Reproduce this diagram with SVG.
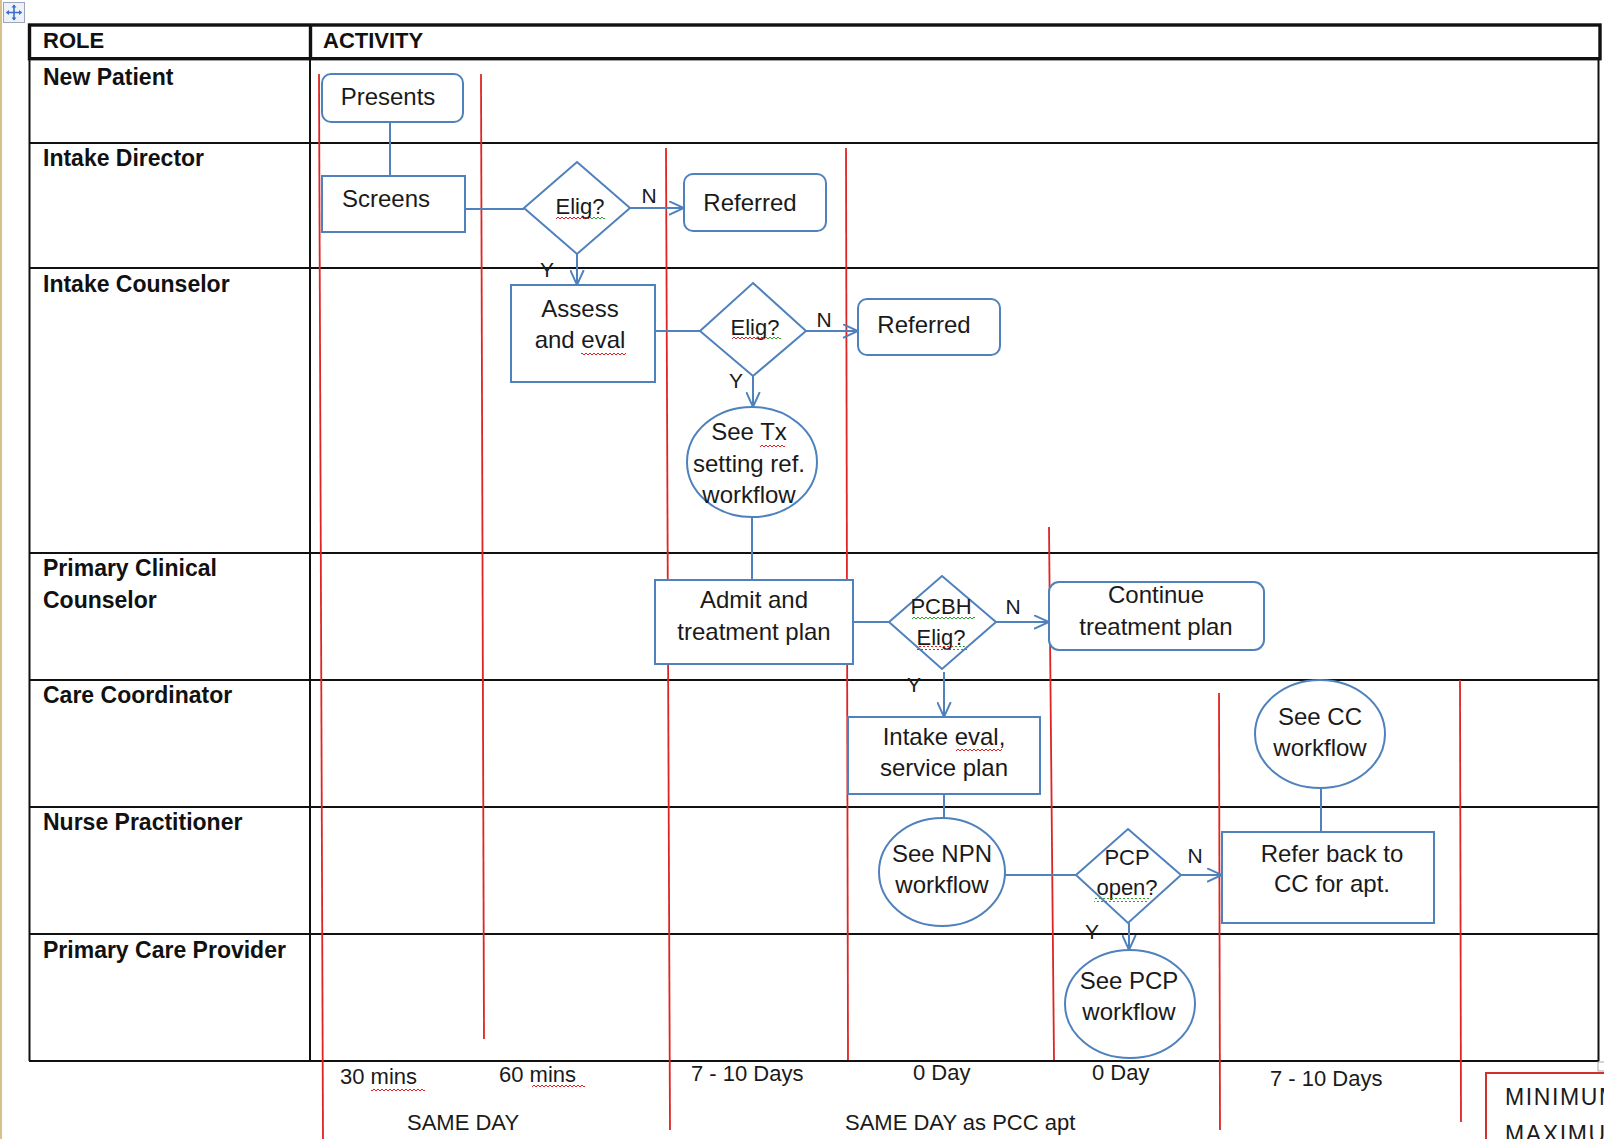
<svg xmlns="http://www.w3.org/2000/svg" width="1604" height="1139" viewBox="0 0 1604 1139">
<defs>
<style>
.role{font-family:"Liberation Sans",Arial,sans-serif;font-weight:bold;font-size:23px;fill:#111}
.hdr{font-family:"Liberation Sans",Arial,sans-serif;font-weight:bold;font-size:22px;fill:#111}
.t{font-family:"Liberation Sans",Arial,sans-serif;font-size:24px;fill:#1a1a1a;text-anchor:middle}
.d{font-family:"Liberation Sans",Arial,sans-serif;font-size:22px;fill:#1a1a1a;text-anchor:middle}
.yn{font-family:"Liberation Sans",Arial,sans-serif;font-size:21px;fill:#1a1a1a;text-anchor:middle}
.b{font-family:"Liberation Sans",Arial,sans-serif;font-size:22px;fill:#1a1a1a}
.shape{fill:#fff;stroke:#4F81BD;stroke-width:2}
.conn{fill:none;stroke:#4F81BD;stroke-width:2}
.red{stroke:#E02424;stroke-width:1.8;fill:none}
.grid{stroke:#111;stroke-width:2;fill:none}
</style>
<marker id="arr" viewBox="0 0 10 10" refX="10" refY="5" markerWidth="15" markerHeight="15" markerUnits="userSpaceOnUse" orient="auto">
<path d="M0,0.5 L10,5 L0,9.5" fill="none" stroke="#4F81BD" stroke-width="1.3"/>
</marker>
<pattern id="wr" width="4" height="4" patternUnits="userSpaceOnUse"><path d="M0 3 L2 1 L4 3" fill="none" stroke="#E02020" stroke-width="1"/></pattern>
<pattern id="wg" width="4" height="4" patternUnits="userSpaceOnUse"><path d="M0 3 L2 1 L4 3" fill="none" stroke="#30A030" stroke-width="1"/></pattern>
</defs>
<rect width="1604" height="1139" fill="#fff"/>
<line x1="1" y1="0" x2="1" y2="1139" stroke="#D8C08A" stroke-width="2"/>
<g id="move-handle">
<rect x="3.5" y="2.5" width="21" height="20" fill="#EEF2F8" stroke="#9AA6B8" stroke-width="1"/>
<path d="M14 5 V20 M6.5 12.5 H21.5" stroke="#3A6FC4" stroke-width="1.6"/>
<path d="M14 4.5 L11.5 7.5 H16.5 Z M14 20.5 L11.5 17.5 H16.5 Z M6 12.5 L9 10 V15 Z M22 12.5 L19 10 V15 Z" fill="#3A6FC4"/>
</g>
<g id="table">
<rect x="29.5" y="25" width="1570.5" height="33.7" fill="none" stroke="#111" stroke-width="3.4"/>
<line x1="310.5" y1="25" x2="310.5" y2="58.7" stroke="#111" stroke-width="3.4"/>
<line class="grid" x1="29.5" y1="58" x2="29.5" y2="1061"/>
<line class="grid" x1="310" y1="58" x2="310" y2="1061"/>
<line class="grid" x1="1598.5" y1="58" x2="1598.5" y2="1061"/>
<line class="grid" x1="29" y1="143" x2="1599" y2="143"/>
<line class="grid" x1="29" y1="268" x2="1599" y2="268"/>
<line class="grid" x1="29" y1="553" x2="1599" y2="553"/>
<line class="grid" x1="29" y1="680" x2="1599" y2="680"/>
<line class="grid" x1="29" y1="807" x2="1599" y2="807"/>
<line class="grid" x1="29" y1="934" x2="1599" y2="934"/>
<line class="grid" x1="29" y1="1061" x2="1599" y2="1061"/>
<rect x="1598" y="1062" width="7" height="9" fill="#fff" stroke="#AAAAAA" stroke-width="1"/>
<text class="hdr" x="43" y="48">ROLE</text>
<text class="hdr" x="323" y="48">ACTIVITY</text>
<text class="role" x="43" y="85">New Patient</text>
<text class="role" x="43" y="166">Intake Director</text>
<text class="role" x="43" y="292">Intake Counselor</text>
<text class="role" x="43" y="576">Primary Clinical</text>
<text class="role" x="43" y="608">Counselor</text>
<text class="role" x="43" y="703">Care Coordinator</text>
<text class="role" x="43" y="830">Nurse Practitioner</text>
<text class="role" x="43" y="958">Primary Care Provider</text>
</g>
<g id="time-dividers">
<line class="red" x1="319" y1="74" x2="323" y2="1139"/>
<line class="red" x1="481" y1="74" x2="484" y2="1039"/>
<line class="red" x1="666" y1="148" x2="670" y2="1130"/>
<line class="red" x1="846" y1="148" x2="848" y2="1060"/>
<line class="red" x1="1049" y1="527" x2="1054" y2="1060"/>
<line class="red" x1="1219" y1="693" x2="1220" y2="1130"/>
<line class="red" x1="1460" y1="680" x2="1461" y2="1122"/>
</g>
<g id="connectors">
<path class="conn" d="M390 122 V176"/>
<path class="conn" d="M465 209 H524"/>
<path class="conn" d="M630 208 H684" marker-end="url(#arr)"/>
<path class="conn" d="M577 254 V285" marker-end="url(#arr)"/>
<path class="conn" d="M655 331 H700"/>
<path class="conn" d="M806 331 H858" marker-end="url(#arr)"/>
<path class="conn" d="M753 376 V407" marker-end="url(#arr)"/>
<path class="conn" d="M752 517 V580"/>
<path class="conn" d="M853 622 H889"/>
<path class="conn" d="M996 622 H1049" marker-end="url(#arr)"/>
<path class="conn" d="M944 672 V717" marker-end="url(#arr)"/>
<path class="conn" d="M944 794 V818"/>
<path class="conn" d="M1005 875 H1076"/>
<path class="conn" d="M1181 875 H1222" marker-end="url(#arr)"/>
<path class="conn" d="M1321 788 V832"/>
<path class="conn" d="M1129 923 V950" marker-end="url(#arr)"/>
<text class="yn" x="649" y="203">N</text>
<text class="yn" x="547" y="277">Y</text>
<text class="yn" x="824" y="327">N</text>
<text class="yn" x="736" y="388">Y</text>
<text class="yn" x="1013" y="614">N</text>
<text class="yn" x="914" y="692">Y</text>
<text class="yn" x="1195" y="863">N</text>
<text class="yn" x="1092" y="939">Y</text>
</g>
<g id="presents">
<rect class="shape" x="322" y="74" width="141" height="48" rx="9"/>
<text class="t" x="388" y="105">Presents</text>
</g>
<g id="screens">
<rect class="shape" x="322" y="176" width="143" height="56"/>
<text class="t" x="386" y="207">Screens</text>
</g>
<g id="elig1">
<polygon class="shape" points="577,162 630,208 577,254 524,208"/>
<text class="d" x="580" y="214">Elig?</text>
<rect x="556" y="215" width="35" height="4" fill="url(#wr)"/>
<rect x="591" y="215" width="14" height="4" fill="url(#wg)"/>
</g>
<g id="referred1">
<rect class="shape" x="684" y="174" width="142" height="57" rx="9"/>
<text class="t" x="750" y="211">Referred</text>
</g>
<g id="assess">
<rect class="shape" x="511" y="285" width="144" height="97"/>
<text class="t" x="580" y="317">Assess</text>
<text class="t" x="580" y="348">and eval</text>
<rect x="581" y="353" width="45" height="4" fill="url(#wr)"/>
</g>
<g id="elig2">
<polygon class="shape" points="753,283 806,331 753,376 700,331"/>
<text class="d" x="755" y="335">Elig?</text>
<rect x="732" y="337" width="34" height="4" fill="url(#wr)"/>
<rect x="766" y="337" width="15" height="4" fill="url(#wg)"/>
</g>
<g id="referred2">
<rect class="shape" x="858" y="299" width="142" height="56" rx="9"/>
<text class="t" x="924" y="333">Referred</text>
</g>
<g id="see-tx">
<ellipse class="shape" cx="752" cy="462" rx="65" ry="55"/>
<text class="t" x="749" y="440">See Tx</text>
<text class="t" x="749" y="472">setting ref.</text>
<text class="t" x="749" y="503">workflow</text>
<rect x="760" y="443" width="25" height="4" fill="url(#wr)"/>
</g>
<g id="admit">
<rect class="shape" x="655" y="580" width="198" height="84"/>
<text class="t" x="754" y="608">Admit and</text>
<text class="t" x="754" y="640">treatment plan</text>
</g>
<g id="pcbh">
<polygon class="shape" points="942,576 996,622 942,669 889,622"/>
<text class="d" x="941" y="614">PCBH</text>
<text class="d" x="941" y="645">Elig?</text>
<rect x="912" y="615" width="63" height="4" fill="url(#wg)"/>
<rect x="917" y="646" width="36" height="4" fill="url(#wr)"/>
<rect x="953" y="646" width="15" height="4" fill="url(#wg)"/>
</g>
<g id="continue">
<rect class="shape" x="1049" y="582" width="215" height="68" rx="10"/>
<text class="t" x="1156" y="603">Continue</text>
<text class="t" x="1156" y="635">treatment plan</text>
</g>
<g id="intake-eval">
<rect class="shape" x="848" y="717" width="192" height="77"/>
<text class="t" x="944" y="745">Intake eval,</text>
<text class="t" x="944" y="776">service plan</text>
<rect x="956" y="748" width="46" height="4" fill="url(#wr)"/>
</g>
<g id="see-npn">
<ellipse class="shape" cx="942" cy="872" rx="63" ry="54"/>
<text class="t" x="942" y="862">See NPN</text>
<text class="t" x="942" y="893">workflow</text>
</g>
<g id="pcp-open">
<polygon class="shape" points="1128,829 1181,875 1128,923 1076,875"/>
<text class="d" x="1127" y="865">PCP</text>
<text class="d" x="1127" y="895">open?</text>
<rect x="1094" y="898" width="55" height="4" fill="url(#wg)"/>
</g>
<g id="refer-back">
<rect class="shape" x="1222" y="832" width="212" height="91"/>
<text class="t" x="1332" y="862">Refer back to</text>
<text class="t" x="1332" y="892">CC for apt.</text>
</g>
<g id="see-cc">
<ellipse class="shape" cx="1320" cy="734" rx="65" ry="54"/>
<text class="t" x="1320" y="725">See CC</text>
<text class="t" x="1320" y="756">workflow</text>
</g>
<g id="see-pcp">
<ellipse class="shape" cx="1130" cy="1004" rx="65" ry="54"/>
<text class="t" x="1129" y="989">See PCP</text>
<text class="t" x="1129" y="1020">workflow</text>
</g>
<g id="time-labels">
<text class="b" x="340" y="1084">30 mins</text>
<rect x="371" y="1087" width="54" height="4" fill="url(#wr)"/>
<text class="b" x="499" y="1082">60 mins</text>
<rect x="532" y="1085" width="53" height="4" fill="url(#wr)"/>
<text class="b" x="691" y="1081">7 - 10 Days</text>
<text class="b" x="913" y="1080">0 Day</text>
<text class="b" x="1092" y="1080">0 Day</text>
<text class="b" x="1270" y="1086">7 - 10 Days</text>
<text class="b" x="407" y="1130">SAME DAY</text>
<text class="b" x="845" y="1130">SAME DAY as PCC apt</text>
</g>
<g id="legend-box">
<rect x="1486" y="1073" width="140" height="80" fill="#fff" stroke="#D03030" stroke-width="2"/>
<text class="b" x="1505" y="1105" style="font-size:23px;letter-spacing:1.6px">MINIMUM</text>
<text class="b" x="1505" y="1142" style="font-size:23px;letter-spacing:1.6px">MAXIMUM</text>
</g>
</svg>
